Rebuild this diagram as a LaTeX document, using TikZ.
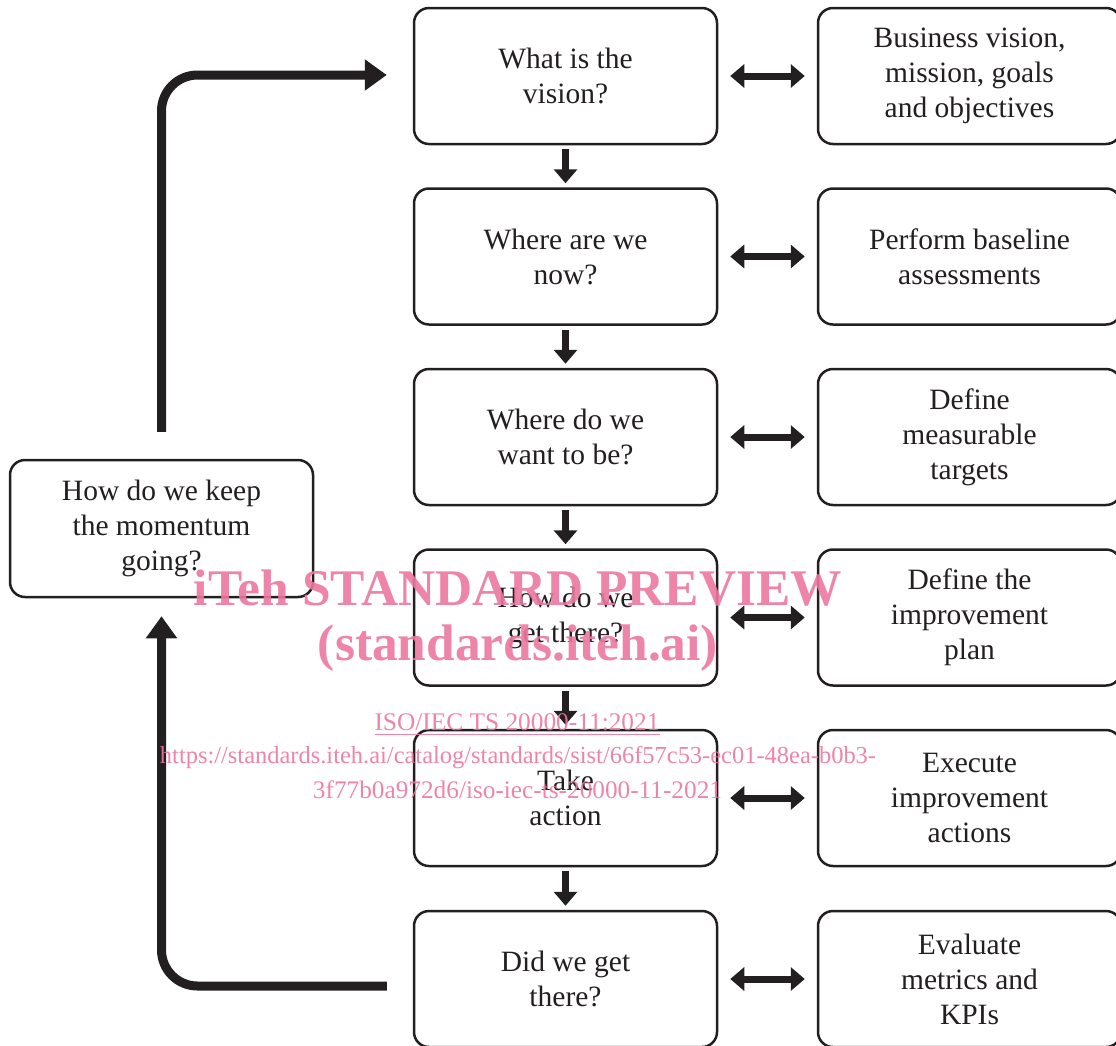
\documentclass[tikz,border=0pt]{standalone}
\usepackage{fontspec}
\setmainfont{Liberation Serif}
\usetikzlibrary{arrows.meta,calc}
\definecolor{ink}{RGB}{35,31,32}
\definecolor{wm}{RGB}{236,120,158}
\begin{document}
\begin{tikzpicture}[x=1pt,y=-1pt,
  box/.style={draw=ink,line width=2.5pt,rounded corners=15pt,minimum width=303pt,minimum height=136pt,inner sep=0pt,align=center,text=ink,font=\fontsize{29.5}{35}\selectfont},
  downarrow/.style={draw=ink,line width=7pt,-{Triangle[width=23pt,length=14pt]},shorten <=4pt,shorten >=4pt},
  twoway/.style={draw=ink,line width=7pt,{Triangle[width=23pt,length=14pt]}-{Triangle[width=23pt,length=14pt]}},
  loopline/.style={draw=ink,line width=9pt,rounded corners=36pt},
  loophead/.style={-{Triangle[width=30pt,length=22pt]}},
  wmtext/.style={text=wm,inner sep=0pt,opacity=0.9}]
\useasboundingbox (0,0) rectangle (1116,1045);
% middle column
\node[box] (m1) at (565.5,76) {What is the\\vision?};
\node[box] (m2) at (565.5,256.5) {Where are we\\now?};
\node[box] (m3) at (565.5,437) {Where do we\\want to be?};
\node[box] (m4) at (565.5,617.5) {How do we\\get there?};
\node[box] (m5) at (565.5,798) {Take\\action};
\node[box] (m6) at (565.5,979) {Did we get\\there?};
% right column
\node[box] (r1) at (969.5,76) {Business vision,\\mission, goals\\and objectives};
\node[box] (r2) at (969.5,256.5) {Perform baseline\\assessments};
\node[box] (r3) at (969.5,437) {Define\\measurable\\targets};
\node[box] (r4) at (969.5,617.5) {Define the\\improvement\\plan};
\node[box] (r5) at (969.5,798) {Execute\\improvement\\actions};
\node[box] (r6) at (969.5,979) {Evaluate\\metrics and\\KPIs};
% left
\node[box,minimum height=137pt] (left) at (161.5,528.5) {How do we keep\\the momentum\\going?};
% down arrows
\foreach \a/\b in {m1/m2,m2/m3,m3/m4,m4/m5,m5/m6}
  \draw[downarrow] (\a.south) -- (\b.north);
% two-way arrows
\foreach \i in {1,...,6}
  \draw[twoway] ($(m\i.east)+(12,0)$) -- ($(r\i.west)+(-12,0)$);
% loop arrows
\coordinate (lt) at ($(left.north)+(0,-27)$);
\coordinate (tt) at ($(m1.west)+(-26,-1)$);
\draw[loopline,loophead] (lt) |- (tt);
\coordinate (bs) at ($(m6.west)+(-26,7)$);
\coordinate (lb) at ($(left.south)+(0,18)$);
\draw[loopline,loophead] (bs) -| (lb);
% watermark
\node[wmtext] (w1) at (518,588) {\resizebox{648pt}{!}{\bfseries iTeh STANDARD PREVIEW}};
\node[wmtext] (w2) at (518,648) {\resizebox{400pt}{!}{\bfseries (standards.iteh.ai)}};
\node[wmtext] (w3) at (517,725) {\resizebox{285pt}{!}{\underline{ISO/IEC TS 20000-11:2021}}};
\node[wmtext] (w4) at (518,758) {\resizebox{716pt}{!}{https://standards.iteh.ai/catalog/standards/sist/66f57c53-ec01-48ea-b0b3-}};
\node[wmtext] (w5) at (517.5,790) {\resizebox{409pt}{!}{3f77b0a972d6/iso-iec-ts-20000-11-2021}};
\end{tikzpicture}
\end{document}
